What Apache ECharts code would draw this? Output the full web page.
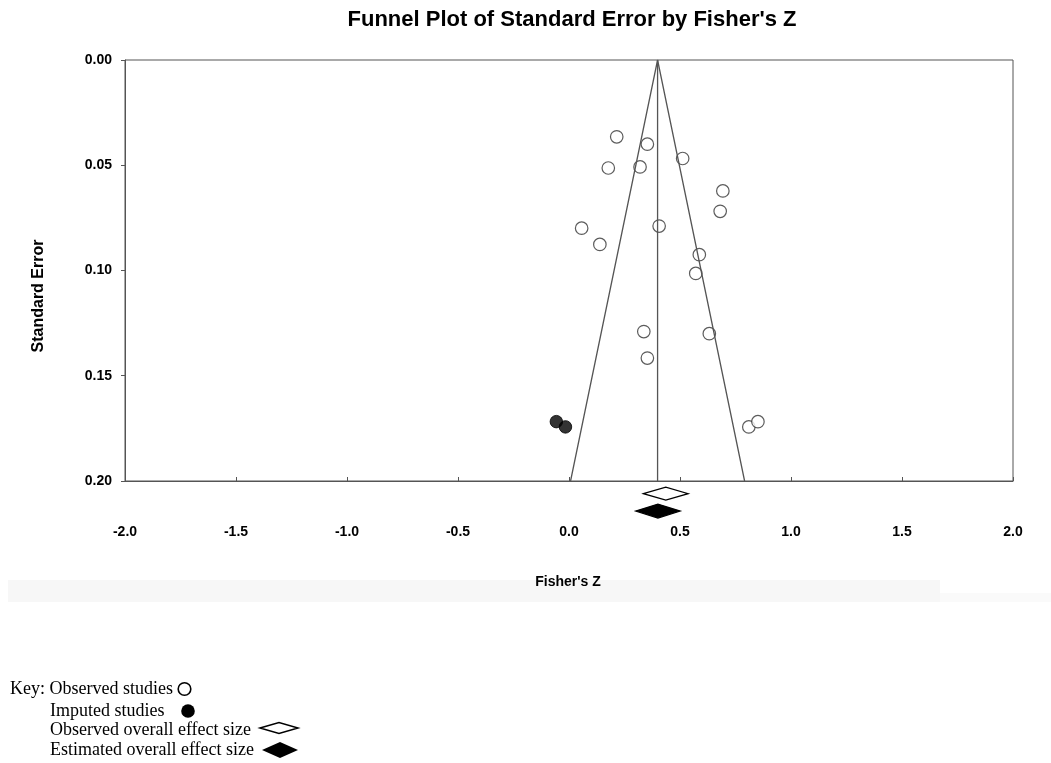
<!DOCTYPE html>
<html><head><meta charset="utf-8">
<script src="https://cdn.jsdelivr.net/npm/echarts@6/dist/echarts.min.js"></script>
<style>html,body{margin:0;padding:0;background:#fff}#c{width:1051px;height:763px}</style>
</head><body><div id="c"></div>
<script>
// Observed studies (Fisher's Z, standard error)
const observedZ  = [0.215, 0.353, 0.177, 0.320, 0.512, 0.693, 0.681, 0.057, 0.139, 0.406, 0.587, 0.571, 0.337, 0.632, 0.353, 0.810, 0.851];
const observedSE = [0.0365, 0.0400, 0.0513, 0.0508, 0.0468, 0.0622, 0.0719, 0.0799, 0.0876, 0.0789, 0.0925, 0.1014, 0.1290, 0.1300, 0.1416, 0.1743, 0.1718];
// Imputed studies
const imputedZ  = [-0.057, -0.016];
const imputedSE = [0.1718, 0.1743];
// Overall effect (funnel centre) and funnel limits
const centerZ = 0.399;
const funnelSEmax = 0.20;
const zCrit = 1.96;
// Diamonds: [lower, upper, row position on SE scale]
const observedDiamond  = [0.335, 0.537, 0.206];
const estimatedDiamond = [0.300, 0.501, 0.2143];
// Axis ticks
const xTicks = [-2.0, -1.5, -1.0, -0.5, 0.0, 0.5, 1.0, 1.5, 2.0];
const yTicks = [0.00, 0.05, 0.10, 0.15, 0.20];
// Key labels
const keyLabels = ['Key: Observed studies', 'Imputed studies', 'Observed overall effect size', 'Estimated overall effect size'];

const chart = echarts.init(document.getElementById('c'), null, {renderer: 'canvas'});
const sans = '"Liberation Sans", Arial, sans-serif';
const serif = '"Liberation Serif", "Times New Roman", serif';

function diamondSeries(d, filled) {
  return {
    type: 'custom', clip: false, silent: true,
    data: [d],
    renderItem: function (params, api) {
      const lo = api.coord([api.value(0), api.value(2)]);
      const hi = api.coord([api.value(1), api.value(2)]);
      const cx = (lo[0] + hi[0]) / 2, cy = lo[1];
      const h = filled ? 7 : 6.5;
      return {
        type: 'polygon',
        shape: {points: [[lo[0], cy], [cx, cy - h], [hi[0], cy], [cx, cy + h]]},
        style: {fill: filled ? '#000' : '#fff', stroke: '#000', lineWidth: 1.2}
      };
    }
  };
}

const keyFont = '18px ' + serif;
const option = {
  animation: false,
  backgroundColor: '#fff',
  title: {
    text: "Funnel Plot of Standard Error by Fisher's Z",
    left: 567, top: 4, textAlign: 'center',
    textStyle: {fontFamily: sans, fontWeight: 'bold', fontSize: 22, color: '#000'}
  },
  grid: {left: 125, right: 38, top: 60, bottom: 282, show: true, borderColor: '#555', borderWidth: 1},
  xAxis: {
    type: 'value', min: xTicks[0], max: xTicks[xTicks.length - 1], interval: 0.5,
    position: 'bottom',
    axisLine: {show: true, onZero: false, lineStyle: {color: '#555', width: 1}},
    axisTick: {show: true, inside: true, length: 4, lineStyle: {color: '#555'}},
    splitLine: {show: false},
    axisLabel: {margin: 44, fontFamily: sans, fontWeight: 'bold', fontSize: 14, color: '#000',
      formatter: v => v.toFixed(1)}
  },
  yAxis: {
    type: 'value', inverse: true, min: yTicks[0], max: yTicks[yTicks.length - 1], interval: 0.05,
    position: 'left',
    axisLine: {show: true, onZero: false, lineStyle: {color: '#555', width: 1}},
    axisTick: {show: true, length: 4, lineStyle: {color: '#555'}},
    splitLine: {show: false},
    axisLabel: {margin: 13, fontFamily: sans, fontWeight: 'bold', fontSize: 14, color: '#000',
      formatter: v => v.toFixed(2)}
  },
  series: [
    {type: 'line', silent: true, symbol: 'none', lineStyle: {color: '#555', width: 1.3},
      data: [[centerZ - zCrit * funnelSEmax, funnelSEmax], [centerZ, 0], [centerZ + zCrit * funnelSEmax, funnelSEmax]]},
    {type: 'line', silent: true, symbol: 'none', lineStyle: {color: '#555', width: 1.3},
      data: [[centerZ, 0], [centerZ, funnelSEmax]]},
    {type: 'scatter', symbol: 'circle', symbolSize: 12.5,
      itemStyle: {color: '#fff', borderColor: '#333', borderWidth: 1.2},
      data: observedZ.map((z, i) => [z, observedSE[i]])},
    {type: 'scatter', symbol: 'circle', symbolSize: 12.5,
      itemStyle: {color: '#000', borderColor: '#000', borderWidth: 1},
      data: imputedZ.map((z, i) => [z, imputedSE[i]])},
    diamondSeries(observedDiamond, false),
    diamondSeries(estimatedDiamond, true)
  ],
  graphic: [
    {type: 'rect', z: -1, shape: {x: 8, y: 580, width: 932, height: 22}, style: {fill: '#f7f7f7'}},
    {type: 'rect', z: -1, shape: {x: 940, y: 593, width: 111, height: 9}, style: {fill: '#fafafa'}},
    {type: 'text', x: 568, y: 582, style: {text: "Fisher's Z", font: 'bold 14px ' + sans, fill: '#000', align: 'center', verticalAlign: 'middle'}},
    {type: 'text', x: 39, y: 296, rotation: Math.PI / 2, style: {text: 'Standard Error', font: 'bold 16px ' + sans, fill: '#000', align: 'center', verticalAlign: 'middle'}},
    {type: 'text', x: 10, y: 689, style: {text: keyLabels[0], font: keyFont, fill: '#000', verticalAlign: 'middle'}},
    {type: 'text', x: 50, y: 711, style: {text: keyLabels[1], font: keyFont, fill: '#000', verticalAlign: 'middle'}},
    {type: 'text', x: 50, y: 730, style: {text: keyLabels[2], font: keyFont, fill: '#000', verticalAlign: 'middle'}},
    {type: 'text', x: 50, y: 750, style: {text: keyLabels[3], font: keyFont, fill: '#000', verticalAlign: 'middle'}},
    {type: 'circle', shape: {cx: 184.5, cy: 689, r: 6.3}, style: {fill: '#fff', stroke: '#000', lineWidth: 1.6}},
    {type: 'circle', shape: {cx: 188, cy: 711, r: 6.8}, style: {fill: '#000'}},
    {type: 'polygon', shape: {points: [[260, 728], [279, 722.5], [298, 728], [279, 733.5]]}, style: {fill: '#fff', stroke: '#000', lineWidth: 1.5}},
    {type: 'polygon', shape: {points: [[262, 750], [280, 742], [298, 750], [280, 758]]}, style: {fill: '#000'}}
  ]
};
chart.setOption(option);
</script></body></html>
